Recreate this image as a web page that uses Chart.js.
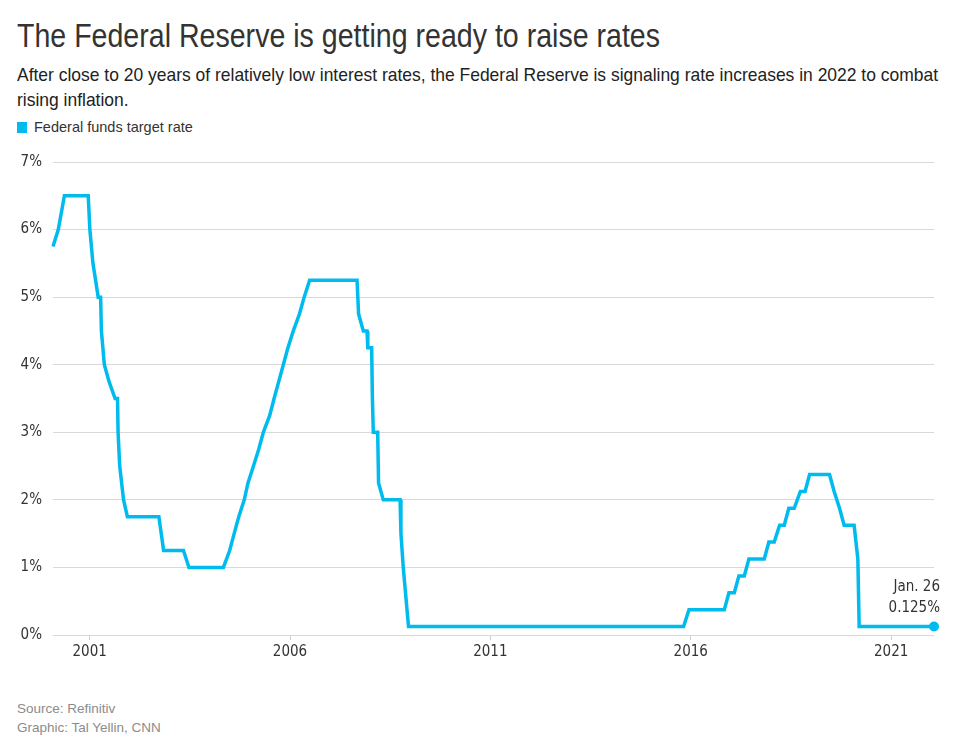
<!DOCTYPE html>
<html>
<head>
<meta charset="utf-8">
<script src="https://cdn.jsdelivr.net/npm/chart.js@4.4.1/dist/chart.umd.min.js"></script>
<style>
  html, body { margin: 0; padding: 0; background: #fff; }
  body { width: 975px; height: 743px; position: relative; overflow: hidden; font-family: "Liberation Sans", Arial, sans-serif; }
  .fit { display: inline-block; white-space: nowrap; transform-origin: 0 0; }
  #title { position: absolute; left: 17px; top: 15px; font-size: 34px; line-height: 40px; color: #333; }
  #subtitle { position: absolute; left: 17px; top: 62px; font-size: 19px; line-height: 25px; color: #222; }
  #legend { position: absolute; left: 17px; top: 119px; font-size: 14.5px; line-height: 16px; color: #333; white-space: nowrap; }
  #legend .sw { display: inline-block; width: 10px; height: 11px; background: #00bbee; vertical-align: -1px; margin-right: 7px; }
  .foot { position: absolute; left: 17px; font-size: 13.5px; line-height: 16px; color: #8c8c8c; white-space: nowrap; }
  #chartBox { position: absolute; left: 0; top: 140px; width: 975px; height: 525px; }
</style>
</head>
<body>
<div id="title" class="fit" data-width="643">The Federal Reserve is getting ready to raise rates</div>
<div id="subtitle" class="fit" data-width="921">After close to 20 years of relatively low interest rates, the Federal Reserve is signaling rate increases in 2022 to combat<br>rising inflation.</div>
<div id="legend"><span class="sw"></span>Federal funds target rate</div>
<div id="chartBox"><canvas id="c"></canvas></div>
<div class="foot" style="top:701px">Source: Refinitiv</div>
<div class="foot" style="top:720px">Graphic: Tal Yellin, CNN</div>
<script>
// ---- Data (dates of rate points, target rate in %) ----
const dates = [
  "2000-02-02","2000-03-21","2000-05-16","2000-12-19",
  "2001-01-03","2001-01-31","2001-03-20","2001-04-11","2001-04-18","2001-05-15","2001-06-27","2001-08-21","2001-09-12","2001-09-17","2001-10-02","2001-11-06","2001-12-11",
  "2002-09-24","2002-11-06",
  "2003-05-06","2003-06-25",
  "2004-05-04","2004-06-30","2004-08-10","2004-09-21","2004-11-10","2004-12-14",
  "2005-02-02","2005-03-22","2005-05-03","2005-06-30","2005-08-09","2005-09-20","2005-11-01","2005-12-13",
  "2006-01-31","2006-03-28","2006-05-10","2006-06-29",
  "2007-09-04","2007-09-18","2007-10-31","2007-12-04","2007-12-11",
  "2008-01-15","2008-01-22","2008-01-30","2008-03-10","2008-03-18","2008-04-30","2008-09-30","2008-10-08","2008-10-29","2008-12-16",
  "2015-10-28","2015-12-16",
  "2016-11-02","2016-12-14",
  "2017-02-01","2017-03-15","2017-05-03","2017-06-14","2017-11-01","2017-12-13",
  "2018-01-31","2018-03-21","2018-05-02","2018-06-13","2018-08-01","2018-09-26","2018-11-08","2018-12-19",
  "2019-06-19","2019-07-31","2019-09-18","2019-10-30",
  "2020-01-29","2020-03-03","2020-03-15",
  "2022-01-26"
];
const rates = [
  5.75, 6.0, 6.5, 6.5,
  6.0, 5.5, 5.0, 5.0, 4.5, 4.0, 3.75, 3.5, 3.5, 3.0, 2.5, 2.0, 1.75,
  1.75, 1.25,
  1.25, 1.0,
  1.0, 1.25, 1.5, 1.75, 2.0, 2.25,
  2.5, 2.75, 3.0, 3.25, 3.5, 3.75, 4.0, 4.25,
  4.5, 4.75, 5.0, 5.25,
  5.25, 4.75, 4.5, 4.5, 4.25,
  4.25, 3.5, 3.0, 3.0, 2.25, 2.0, 2.0, 1.5, 1.0, 0.125,
  0.125, 0.375,
  0.375, 0.625,
  0.625, 0.875, 0.875, 1.125, 1.125, 1.375,
  1.375, 1.625, 1.625, 1.875, 1.875, 2.125, 2.125, 2.375,
  2.375, 2.125, 1.875, 1.625,
  1.625, 1.125, 0.125,
  0.125
];
const tickYears = [2001, 2006, 2011, 2016, 2021];
const yTicks = [0, 1, 2, 3, 4, 5, 6, 7];
const seriesName = "Federal funds target rate";
const endLabelDate = "Jan. 26";
const endLabelValue = "0.125%";

const LINE_COLOR = "#00bbee";
const NARROW = '"DejaVu Sans Condensed", "Liberation Sans", sans-serif';

// squeeze condensed-looking headline text to the reference widths
document.querySelectorAll('.fit').forEach(el => {
  const w = parseFloat(el.dataset.width);
  const nat = el.getBoundingClientRect().width;
  if (nat > 0) el.style.transform = 'scaleX(' + (w / nat) + ')';
});

const points = dates.map((d, i) => ({ x: Date.parse(d), y: rates[i] }));
const lastIdx = points.length - 1;

const endLabelPlugin = {
  id: 'endLabel',
  afterDatasetsDraw(chart) {
    const meta = chart.getDatasetMeta(0);
    const el = meta.data[lastIdx];
    if (!el) return;
    const ctx = chart.ctx;
    ctx.save();
    ctx.font = '15px ' + NARROW;
    ctx.fillStyle = '#333';
    ctx.textAlign = 'right';
    ctx.textBaseline = 'middle';
    ctx.fillText(endLabelDate, el.x + 6, el.y - 39);
    ctx.fillText(endLabelValue, el.x + 6, el.y - 18);
    ctx.restore();
  }
};

new Chart(document.getElementById('c'), {
  type: 'line',
  data: {
    datasets: [{
      label: seriesName,
      data: points,
      borderColor: LINE_COLOR,
      backgroundColor: LINE_COLOR,
      borderWidth: 3.5,
      borderJoinStyle: 'miter',
      pointRadius: ctx => ctx.dataIndex === lastIdx ? 5 : 0,
      pointHoverRadius: 0,
      pointBackgroundColor: LINE_COLOR,
      pointBorderWidth: 0,
      tension: 0,
      fill: false,
      clip: false
    }]
  },
  options: {
    responsive: true,
    maintainAspectRatio: false,
    animation: false,
    events: [],
    layout: { padding: { left: 0, right: 41, top: 22, bottom: 0 } },
    plugins: {
      legend: { display: false },
      tooltip: { enabled: false },
      title: { display: false }
    },
    scales: {
      x: {
        type: 'linear',
        min: points[0].x,
        max: points[lastIdx].x,
        afterBuildTicks: s => { s.ticks = tickYears.map(y => ({ value: Date.UTC(y, 0, 1) })); },
        afterFit: s => { s.height = 30; },
        grid: { drawOnChartArea: false, drawTicks: true, tickLength: 5, color: '#cccccc' },
        border: { display: false },
        ticks: {
          autoSkip: false,
          maxRotation: 0,
          padding: 3,
          color: '#333',
          font: { family: NARROW, size: 15 },
          callback: v => String(new Date(v).getUTCFullYear())
        }
      },
      y: {
        min: 0,
        max: 7,
        afterBuildTicks: s => { s.ticks = yTicks.map(v => ({ value: v })); },
        afterFit: s => { s.width = 53; },
        grid: { drawTicks: false, color: '#d9d9d9', lineWidth: 1 },
        border: { display: false },
        ticks: {
          padding: 11,
          color: '#333',
          font: { family: NARROW, size: 15 },
          callback: v => v + '%'
        }
      }
    }
  },
  plugins: [endLabelPlugin]
});
</script>
</body>
</html>
